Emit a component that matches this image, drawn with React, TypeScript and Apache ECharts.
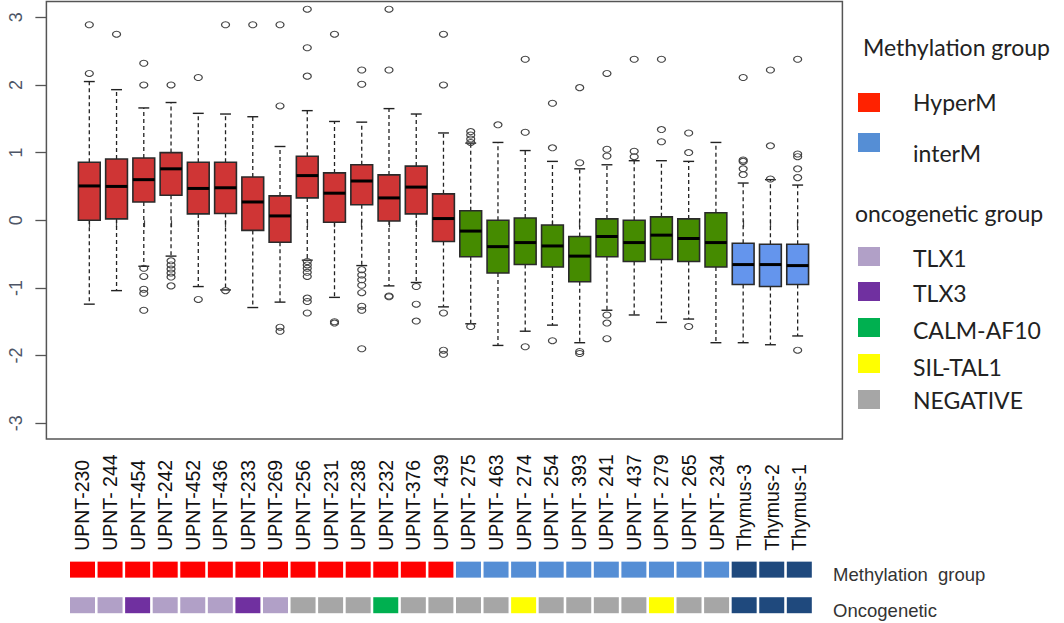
import React, { useEffect, useRef } from "react";
import * as echarts from "echarts";

const categories = [
  "UPNT-230", "UPNT- 244", "UPNT-454", "UPNT-242", "UPNT-452", "UPNT-436", "UPNT-233",
  "UPNT-269", "UPNT-256", "UPNT-231", "UPNT-238", "UPNT-232", "UPNT-376", "UPNT- 439",
  "UPNT- 275", "UPNT- 463", "UPNT- 274", "UPNT- 254", "UPNT- 393", "UPNT- 241",
  "UPNT- 437", "UPNT- 279", "UPNT- 265", "UPNT- 234", "Thymus-3", "Thymus-2", "Thymus-1",
];

const lowerWhisker = [-1.24, -1.04, -0.68, -0.53, -0.98, -1.03, -1.29, -1.21, -0.59, -1.14, -0.67, -0.97, -0.92, -1.28,
  -1.53, -1.85, -1.64, -1.55, -1.81, -1.33, -1.4, -1.51, -1.46, -1.81, -1.81, -1.84, -1.71];
const q1 = [0.0, 0.02, 0.27, 0.37, 0.094, 0.1, -0.15, -0.325, 0.33, -0.03, 0.23, -0.01, 0.094, -0.315,
  -0.54, -0.78, -0.655, -0.69, -0.91, -0.54, -0.61, -0.58, -0.61, -0.69, -0.95, -0.98, -0.95];
const median = [0.507, 0.5, 0.6, 0.76, 0.47, 0.48, 0.27, 0.064, 0.66, 0.4, 0.58, 0.33, 0.49, 0.025,
  -0.16, -0.39, -0.33, -0.38, -0.53, -0.24, -0.33, -0.22, -0.27, -0.33, -0.655, -0.655, -0.67];
const q3 = [0.857, 0.906, 0.92, 1.0, 0.857, 0.857, 0.64, 0.36, 0.946, 0.7, 0.82, 0.67, 0.8, 0.39,
  0.14, 0.0, 0.034, -0.07, -0.24, 0.02, 0.0, 0.05, 0.02, 0.11, -0.34, -0.355, -0.355];
const upperWhisker = [2.05, 1.93, 1.66, 1.74, 1.58, 1.57, 1.53, 1.09, 1.62, 1.46, 1.45, 1.65, 1.57, 1.29,
  1.14, 1.15, 1.03, 0.87, 0.76, 0.82, 0.88, 0.88, 0.87, 1.15, 0.55, 0.6, 0.52];

const outliers: number[][] = [
  [2.89, 2.17],
  [2.75],
  [2.32, 2.0, -0.71, -0.83, -1.02, -1.08, -1.33],
  [2.0, -0.6, -0.66, -0.72, -0.78, -0.84, -0.97],
  [2.11, -1.17],
  [2.89, -1.04],
  [2.89],
  [2.89, 1.69, -1.58, -1.64],
  [3.12, 2.55, 2.13, -0.61, -0.66, -0.71, -0.77, -0.83, -1.15, -1.2, -1.37],
  [2.75, -1.5, -1.52],
  [2.22, 2.01, -0.73, -0.81, -0.88, -0.96, -1.07, -1.27, -1.33, -1.9],
  [3.12, 2.22, -1.12, -1.13],
  [-0.98, -1.24, -1.49],
  [2.75, 2.0, -1.37, -1.92, -1.98],
  [1.31, 1.26, 1.2, 1.15, -1.57],
  [1.41],
  [2.38, 1.3, -1.87],
  [1.73, 1.07, -1.78],
  [1.96, 0.85, -1.94, -1.97],
  [2.17, 1.05, 0.95, -1.4, -1.52, -1.75],
  [2.38, 1.02, 0.94],
  [2.38, 1.34, 1.16],
  [1.29, 1.0, -1.57],
  [],
  [2.11, 0.89, 0.87, 0.76, 0.675],
  [2.22, 1.1, 0.61],
  [2.38, 0.98, 0.94, 0.76, 0.63, -1.92],
];

const methylationGroup = [
  "HyperM", "HyperM", "HyperM", "HyperM", "HyperM", "HyperM", "HyperM", "HyperM", "HyperM", "HyperM",
  "HyperM", "HyperM", "HyperM", "HyperM",
  "interM", "interM", "interM", "interM", "interM", "interM", "interM", "interM", "interM", "interM",
  "Thymus", "Thymus", "Thymus",
];
const oncogeneticGroup = [
  "TLX1", "TLX1", "TLX3", "TLX1", "TLX1", "TLX1", "TLX3", "TLX1",
  "NEGATIVE", "NEGATIVE", "NEGATIVE", "CALM-AF10", "NEGATIVE", "NEGATIVE", "NEGATIVE", "NEGATIVE",
  "SIL-TAL1", "NEGATIVE", "NEGATIVE", "NEGATIVE", "NEGATIVE", "SIL-TAL1", "NEGATIVE", "NEGATIVE",
  "Thymus", "Thymus", "Thymus",
];
const stripRows = ["Methylation  group", "Oncogenetic"];
const yTicks = [-3, -2, -1, 0, 1, 2, 3];

const legendMethylation = ["HyperM", "interM"];
const legendOncogenetic = ["TLX1", "TLX3", "CALM-AF10", "SIL-TAL1", "NEGATIVE"];

const boxFill: Record<string, string> = { HyperM: "#CF3535", interM: "#458B00", Thymus: "#6495ED" };
const stripColor: Record<string, string> = {
  HyperM: "#FF0000", interM: "#558ED5", Thymus: "#1F497D",
  TLX1: "#B1A0C7", TLX3: "#7030A0", "CALM-AF10": "#00B050", "SIL-TAL1": "#FFFF00", NEGATIVE: "#A6A6A6",
};
const legendColor: Record<string, string> = {
  HyperM: "#FF2200", interM: "#558ED5",
  TLX1: "#B1A0C7", TLX3: "#7030A0", "CALM-AF10": "#00B050", "SIL-TAL1": "#FFFF00", NEGATIVE: "#A6A6A6",
};

function buildOption(): any {
  const boxData = categories.map((_, i) => [i, lowerWhisker[i], q1[i], median[i], q3[i], upperWhisker[i]]);
  const outlierData: number[][] = [];
  outliers.forEach((arr, i) => arr.forEach((v) => outlierData.push([i, v])));

  const stripData: any[] = [];
  categories.forEach((_, i) => {
    stripData.push({ value: [i, 0], itemStyle: { color: stripColor[methylationGroup[i]] } });
    stripData.push({ value: [i, 1], itemStyle: { color: stripColor[oncogeneticGroup[i]] } });
  });

  const legendFont = "Lato, 'Liberation Sans', sans-serif";
  const graphic: any[] = [
    {
      type: "rect",
      shape: { x: 46.4, y: 1.5, width: 796, height: 437.5 },
      style: { fill: "none", stroke: "#555", lineWidth: 1.5 },
      z: 10,
    },
    {
      type: "text", x: 863, y: 47,
      style: { text: "Methylation group", fontSize: 23, fontFamily: legendFont, fill: "#222", verticalAlign: "middle" },
    },
    {
      type: "text", x: 855, y: 213,
      style: { text: "oncogenetic group", fontSize: 23, fontFamily: legendFont, fill: "#222", verticalAlign: "middle" },
    },
  ];
  const methPos = [
    { sq: 93, tx: 102 },
    { sq: 133, tx: 153 },
  ];
  legendMethylation.forEach((name, k) => {
    graphic.push({ type: "rect", shape: { x: 858, y: methPos[k].sq, width: 22, height: 19 }, style: { fill: legendColor[name] } });
    graphic.push({
      type: "text", x: 913, y: methPos[k].tx,
      style: { text: name, fontSize: 23, fontFamily: legendFont, fill: "#222", verticalAlign: "middle" },
    });
  });
  const oncoSq = [247, 282, 318, 354, 390];
  const oncoTx = [258, 293, 330, 367, 400];
  legendOncogenetic.forEach((name, k) => {
    graphic.push({ type: "rect", shape: { x: 858, y: oncoSq[k], width: 22, height: 19 }, style: { fill: legendColor[name] } });
    graphic.push({
      type: "text", x: 913, y: oncoTx[k],
      style: { text: name, fontSize: 23, fontFamily: legendFont, fill: "#222", verticalAlign: "middle" },
    });
  });

  return {
    animation: false,
    backgroundColor: "#ffffff",
    grid: [
      { left: 75.68, top: 1.5, width: 735.6, height: 437.5 },
      { left: 68.7, top: 551.85, width: 744.4, height: 72.6 },
    ],
    xAxis: [
      {
        type: "category",
        gridIndex: 0,
        data: categories,
        boundaryGap: true,
        axisLine: { show: false },
        axisTick: { show: true, length: 7, alignWithLabel: true, interval: 0, lineStyle: { color: "#444", width: 1.2 } },
        axisLabel: { show: false },
        splitLine: { show: false },
      },
      {
        type: "category",
        gridIndex: 1,
        data: categories,
        position: "top",
        axisLine: { show: false },
        axisTick: { show: false },
        axisLabel: {
          interval: 0,
          rotate: -90,
          margin: 1,
          fontSize: 19.5,
          fontFamily: "'Liberation Sans', Arial, sans-serif",
          color: "#111",
        },
        splitLine: { show: false },
      },
    ],
    yAxis: [
      {
        type: "value",
        gridIndex: 0,
        min: -3.233,
        max: 3.233,
        offset: 29.3,
        axisLine: { show: false },
        axisTick: { show: true, length: 11, customValues: yTicks, lineStyle: { color: "#555", width: 1.3 } },
        axisLabel: {
          customValues: yTicks,
          rotate: 90,
          margin: 21,
          fontSize: 18,
          fontFamily: "'Liberation Sans', Arial, sans-serif",
          color: "#4d5566",
        },
        splitLine: { show: false },
      },
      {
        type: "category",
        gridIndex: 1,
        data: stripRows,
        inverse: true,
        position: "right",
        axisLine: { show: false },
        axisTick: { show: false },
        axisLabel: {
          margin: 20,
          fontSize: 18.5,
          fontFamily: "'Liberation Sans', Arial, sans-serif",
          color: "#333",
          verticalAlign: "top",
          lineHeight: 10,
        },
        splitLine: { show: false },
      },
    ],
    series: [
      {
        type: "custom",
        xAxisIndex: 0,
        yAxisIndex: 0,
        data: boxData,
        encode: { x: 0, y: [1, 2, 3, 4, 5] },
        renderItem: (params: any, api: any) => {
          const idx = api.value(0);
          const pLw = api.coord([idx, api.value(1)]);
          const pQ1 = api.coord([idx, api.value(2)]);
          const pMed = api.coord([idx, api.value(3)]);
          const pQ3 = api.coord([idx, api.value(4)]);
          const pUw = api.coord([idx, api.value(5)]);
          const bw = api.size([1, 0])[0] * 0.8;
          const x = pMed[0];
          const fill = boxFill[methylationGroup[params.dataIndex]];
          const dash = { stroke: "#222", lineWidth: 1.3, lineDash: [4, 3] };
          const solid = { stroke: "#222", lineWidth: 1.4 };
          return {
            type: "group",
            children: [
              { type: "line", shape: { x1: x, y1: pQ3[1], x2: x, y2: pUw[1] }, style: dash },
              { type: "line", shape: { x1: x, y1: pQ1[1], x2: x, y2: pLw[1] }, style: dash },
              { type: "line", shape: { x1: x - bw / 4, y1: pUw[1], x2: x + bw / 4, y2: pUw[1] }, style: solid },
              { type: "line", shape: { x1: x - bw / 4, y1: pLw[1], x2: x + bw / 4, y2: pLw[1] }, style: solid },
              {
                type: "rect",
                shape: { x: x - bw / 2, y: pQ3[1], width: bw, height: pQ1[1] - pQ3[1] },
                style: { fill, stroke: "#2a2a2a", lineWidth: 1.6 },
              },
              {
                type: "line",
                shape: { x1: x - bw / 2, y1: pMed[1], x2: x + bw / 2, y2: pMed[1] },
                style: { stroke: "#000", lineWidth: 3 },
              },
            ],
          };
        },
      },
      {
        type: "scatter",
        xAxisIndex: 0,
        yAxisIndex: 0,
        data: outlierData,
        symbol: "circle",
        symbolSize: [8, 6],
        itemStyle: { color: "rgba(0,0,0,0)", borderColor: "#444", borderWidth: 1.1, opacity: 1 },
        z: 5,
      },
      {
        type: "scatter",
        xAxisIndex: 1,
        yAxisIndex: 1,
        data: stripData,
        symbol: "rect",
        symbolSize: [25, 16],
        itemStyle: { opacity: 1 },
      },
    ],
    graphic,
  };
}

export default function App() {
  const ref = useRef<HTMLDivElement>(null);
  useEffect(() => {
    if (!ref.current) return;
    const chart = echarts.init(ref.current, null, { renderer: "svg" });
    chart.setOption(buildOption());
    return () => chart.dispose();
  }, []);
  return (
    <div
      ref={ref}
      style={{ position: "absolute", left: 0, top: 0, width: 1064, height: 623, background: "#fff" }}
    />
  );
}
